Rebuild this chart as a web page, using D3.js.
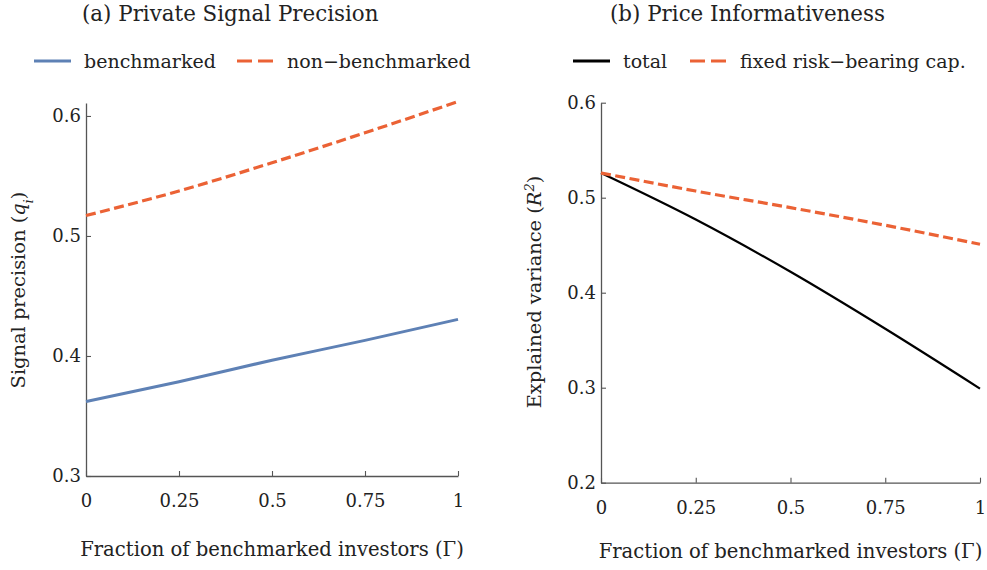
<!DOCTYPE html>
<html>
<head>
<meta charset="utf-8">
<script src="https://cdn.jsdelivr.net/npm/d3@7"></script>
<style>
  body { margin: 0; background: #fff; }
  svg text { font-family: "DejaVu Serif", "Liberation Serif", serif; fill: #222; }
</style>
</head>
<body>
<script>
const w = 987;
const h = 570;

// Data
const gamma = [0, 0.25, 0.5, 0.75, 1];
const benchmarked = [0.362, 0.3785, 0.3965, 0.413, 0.4305];
const nonBenchmarked = [0.517, 0.5375, 0.561, 0.586, 0.612];
const total = [0.526, 0.477, 0.422, 0.362, 0.299];
const fixedCap = [0.526, 0.507, 0.4895, 0.471, 0.451];

const xTicks = [0, 0.25, 0.5, 0.75, 1];
const xTickLabels = ["0", "0.25", "0.5", "0.75", "1"];
const leftYTicks = [0.3, 0.4, 0.5, 0.6];
const rightYTicks = [0.2, 0.3, 0.4, 0.5, 0.6];

const blue = "#5e81b5";
const orange = "#eb6235";

const svg = d3
  .select("body")
  .append("svg")
  .attr("width", w)
  .attr("height", h);

// Draw one panel
function panel(opt) {
  const x = d3.scaleLinear().domain([0, 1]).range([opt.x0, opt.x1]);
  const y = d3.scaleLinear().domain(opt.yDomain).range([opt.yBottom, opt.yTop]);
  const g = svg.append("g");

  // title
  g.append("text")
    .attr("x", opt.titleX)
    .attr("y", 21)
    .style("font-size", "21.4px")
    .text(opt.title);

  // legend
  opt.legend.forEach(function (d) {
    g.append("line")
      .attr("x1", d.lx)
      .attr("x2", d.lx + 37)
      .attr("y1", 61)
      .attr("y2", 61)
      .attr("stroke", d.color)
      .attr("stroke-width", 3.2)
      .attr("stroke-dasharray", d.dash ? "15,6" : null);
    g.append("text")
      .attr("x", d.lx + 50)
      .attr("y", 68)
      .style("font-size", "19px")
      .text(d.label);
  });

  // axes
  const xAxis = d3.axisBottom(x)
    .tickValues(xTicks)
    .tickFormat((d, i) => xTickLabels[i])
    .tickSizeInner(-5)
    .tickSizeOuter(0)
    .tickPadding(opt.xTickPad);
  const gx = g.append("g")
    .attr("transform", "translate(0," + opt.yBottom + ")")
    .call(xAxis);
  gx.selectAll("text").style("font-size", "18px").attr("dy", "0.85em");

  const yAxis = d3.axisLeft(y)
    .tickValues(opt.yTicks)
    .tickFormat(d3.format(".1f"))
    .tickSizeInner(-5)
    .tickSizeOuter(0)
    .tickPadding(5);
  const gy = g.append("g")
    .attr("transform", "translate(" + opt.x0 + ",0)")
    .call(yAxis);
  gy.selectAll("text").style("font-size", "18px");

  g.selectAll(".domain").attr("stroke", "#555").attr("stroke-width", 1.3);
  g.selectAll(".tick line").attr("stroke", "#555").attr("stroke-width", 1.1);

  // axis titles
  g.append("text")
    .attr("x", (opt.x0 + opt.x1) / 2)
    .attr("y", opt.xLabelY)
    .attr("text-anchor", "middle")
    .style("font-size", "19.6px")
    .text("Fraction of benchmarked investors (Γ)");

  const yl = g.append("text")
    .attr("transform", "translate(" + opt.yLabelX + "," + opt.yLabelY + ") rotate(-90)")
    .attr("text-anchor", "middle")
    .style("font-size", "19.4px");
  yl.append("tspan").text(opt.yLabel[0]);
  yl.append("tspan").style("font-style", "italic").text(opt.yLabel[1]);
  yl.append("tspan")
    .attr("baseline-shift", opt.yLabel[3] === "sup" ? "super" : "sub")
    .style("font-size", "13px")
    .style("font-style", "italic")
    .text(opt.yLabel[2]);
  yl.append("tspan").text(")");

  // curves
  const line = d3.line()
    .x((d, i) => x(gamma[i]))
    .y(d => y(d))
    .curve(d3.curveMonotoneX);

  opt.series.forEach(function (s) {
    g.append("path")
      .datum(s.values)
      .attr("d", line)
      .attr("fill", "none")
      .attr("stroke", s.color)
      .attr("stroke-width", s.width)
      .attr("stroke-dasharray", s.dash ? "10,4.5" : null);
  });
}

panel({
  title: "(a) Private Signal Precision",
  titleX: 82,
  x0: 86, x1: 458,
  yBottom: 476, yTop: 103,
  yDomain: [0.3, 0.6108],
  yTicks: leftYTicks,
  xTickPad: 16,
  xLabelY: 556,
  yLabel: ["Signal precision (", "q", "i", "sub"],
  yLabelX: 25, yLabelY: 290,
  legend: [
    { lx: 34, label: "benchmarked", color: blue, dash: false },
    { lx: 237, label: "non\u2212benchmarked", color: orange, dash: true }
  ],
  series: [
    { values: benchmarked, color: blue, width: 3, dash: false },
    { values: nonBenchmarked, color: orange, width: 3.2, dash: true }
  ]
});

panel({
  title: "(b) Price Informativeness",
  titleX: 610,
  x0: 601, x1: 980,
  yBottom: 482.7, yTop: 102.7,
  yDomain: [0.2, 0.6],
  yTicks: rightYTicks,
  xTickPad: 16,
  xLabelY: 558,
  yLabel: ["Explained variance (", "R", "2", "sup"],
  yLabelX: 541, yLabelY: 292,
  legend: [
    { lx: 573, label: "total", color: "#000", dash: false },
    { lx: 690, label: "fixed risk\u2212bearing cap.", color: orange, dash: true }
  ],
  series: [
    { values: total, color: "#000", width: 2.2, dash: false },
    { values: fixedCap, color: orange, width: 3.2, dash: true }
  ]
});
</script>
</body>
</html>
